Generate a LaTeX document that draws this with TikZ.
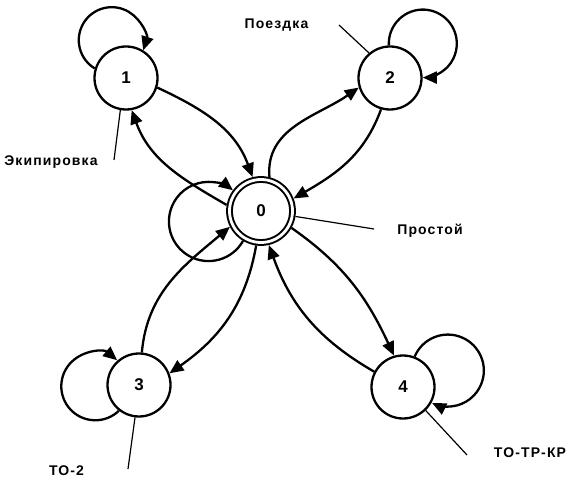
\documentclass[tikz,border=0pt]{standalone}
\usepackage{fontspec}
\setmainfont{Liberation Sans}
\newfontfamily\labelfont[LetterSpace=8]{Liberation Sans}
\usetikzlibrary{arrows.meta}
\begin{document}
\begin{tikzpicture}[x=1pt,y=1pt,
  state/.style={circle, draw, line width=2.3pt, minimum size=63pt, inner sep=0pt,
    font=\bfseries\fontsize{17}{17}\selectfont},
  hub/.style={state, double, double distance=2.8pt, line width=2pt, outer sep=3.4pt},
  trans/.style={line width=2.3pt, -{Triangle[length=14pt,width=12pt]}},
  tag/.style={font=\labelfont\bfseries\fontsize{14}{14}\selectfont, inner sep=0pt},
  leader/.style={line width=1.2pt}]
\useasboundingbox (0,0) rectangle (569,479);

% states
\node[hub]   (n0) at (261,268) {0};
\node[state] (n1) at (126,401) {1};
\node[state] (n2) at (390,401) {2};
\node[state] (n3) at (139,94)  {3};
\node[state] (n4) at (403,92)  {4};

% transitions between states
\draw[trans] (n1.-17) to[out=-25,in=110] (n0.104);
\draw[trans] (n0.170) to[out=150,in=-70] (n1.-80);
\draw[trans] (n0.76)  to[out=95,in=215]  (n2.197);
\draw[trans] (n2.254) to[out=-110,in=30] (n0.21);
\draw[trans] (n3.85)  to[out=85,in=220]  (n0.207);
\draw[trans] (n0.262) to[out=-100,in=35] (n3.21);
\draw[trans] (n0.-29) to[out=-35,in=115] (n4.106);
\draw[trans] (n4.152) to[out=150,in=-70] (n0.-77);

% self-loops
\draw[trans] (n1.163) arc[start angle=239, end angle=-18, radius=33];
\draw[trans] (n2.92)  arc[start angle=183, end angle=-90, radius=34];
\draw[trans] (n3.232) arc[start angle=-46, end angle=-310, radius=34];
\draw[trans] (n4.69)  arc[start angle=157, end angle=-116, radius=36];
\draw[trans] (n0.239) arc[start angle=-29.4, end angle=-308, radius=39.6];

% state names
\node[tag] (ekip)  at (51,317)   {Экипировка};
\node[tag] (poezd) at (276.5,454) {Поездка};
\node[tag] (prost) at (430,248)  {Простой};
\node[tag] (to2)   at (66.5,8)   {ТО-2};
\node[tag] (totr)  at (530,26)   {ТО-ТР-КР};

% leader lines
\coordinate (ekip-end)  at (114,319);
\coordinate (poezd-end) at (339,454);
\coordinate (prost-end) at (374,250);
\coordinate (to2-end)   at (128,10);
\coordinate (totr-end)  at (467,24);
\draw[leader] (n1.260) -- (ekip-end);
\draw[leader] (poezd-end) -- (n2.130);
\draw[leader] (n0.-9) -- (prost-end);
\draw[leader] (n3.263) -- (to2-end);
\draw[leader] (n4.-46) -- (totr-end);
\end{tikzpicture}
\end{document}
